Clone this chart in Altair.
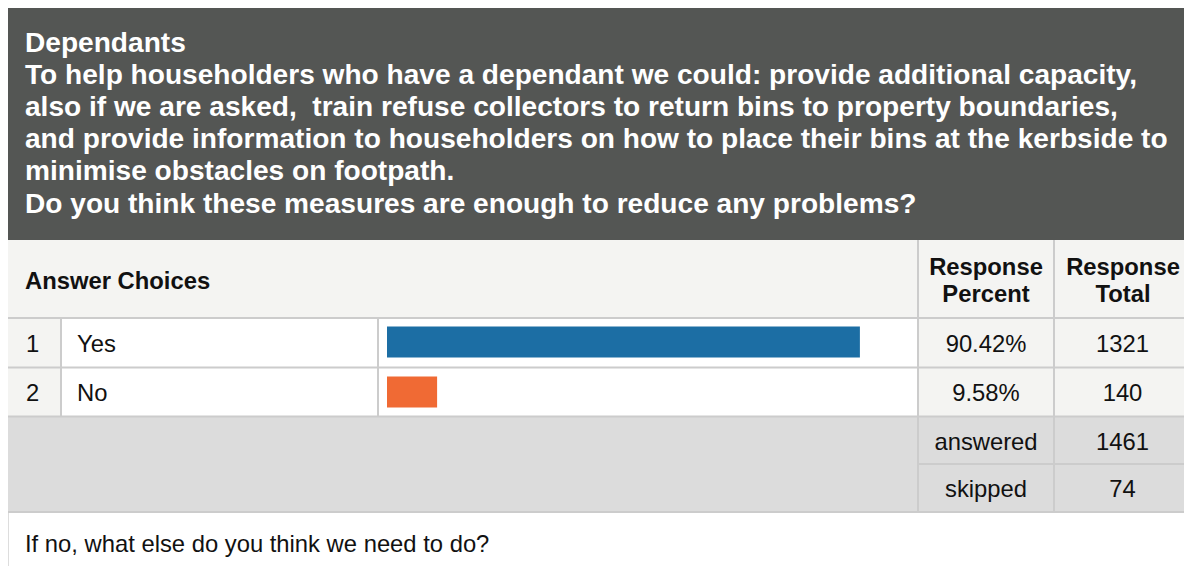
import altair as alt
import pandas as pd

# ---------------- data ----------------
title_lines = [
    "Dependants",
    "To help householders who have a dependant we could: provide additional capacity,",
    "also if we are asked,\u00a0 train refuse collectors to return bins to property boundaries,",
    "and provide information to householders on how to place their bins at the kerbside to",
    "minimise obstacles on footpath.",
    "Do you think these measures are enough to reduce any problems?",
]
choices = ["Yes", "No"]
numbers = ["1", "2"]
percents = [90.42, 9.58]
totals = [1321, 140]
summary_labels = ["answered", "skipped"]
summary_values = [1461, 74]
header_choice = "Answer Choices"
header_cols = [["Response", "Percent"], ["Response", "Total"]]
footer_text = "If no, what else do you think we need to do?"

# ---------------- styles / layout (reference pixel grid) ----------------
OFF = 8  # page margin
bar_colors = ["#1c6ea4", "#f06a34"]
DARK = "#545654"
LIGHT = "#f4f4f2"
SUMM = "#dcdcdc"
LINE = "#cccccc"
FONT = "Liberation Sans"
FS = 23.8
FS_TITLE = 28.1
TXT = "#111111"

boxes = [
    (0, 1192, 0, 5, "#d9d9d9"),
    (5, 1192, 5, 240, DARK),
    (4, 1190, 240, 318, LIGHT),
    (4, 61, 318, 416, LIGHT),
    (61, 918, 318, 416, "#ffffff"),
    (918, 1190, 318, 416, LIGHT),
    (4, 1190, 416, 512, SUMM),
    # grid lines
    (4, 1190, 317, 319, LINE),
    (4, 1190, 366.5, 368.5, LINE),
    (4, 1190, 415.5, 417.5, LINE),
    (918, 1190, 463, 465, LINE),
    (4, 1190, 511, 513, LINE),
    (60, 62, 318, 416, LINE),
    (377, 379, 318, 416, LINE),
    (917, 919, 240, 512, LINE),
    (1053, 1055, 240, 512, LINE),
    (0, 3, 5, 574, LINE),
]
box_df = pd.DataFrame(
    [dict(x0=a - OFF, x1=b - OFF, y0=c - OFF, y1=d - OFF, fill=f) for a, b, c, d, f in boxes]
)

layout = alt.Chart(box_df).mark_rect().encode(
    x=alt.X("x0:Q", scale=None),
    x2="x1:Q",
    y=alt.Y("y0:Q", scale=None),
    y2="y1:Q",
    fill=alt.Fill("fill:N", scale=None),
)

# title lines
title_df = pd.DataFrame({"line": list(range(len(title_lines))), "text": title_lines})
title = alt.Chart(title_df).mark_text(
    align="left", baseline="alphabetic", font=FONT, fontSize=FS_TITLE,
    fontWeight="bold", color="#ffffff",
).encode(
    x=alt.value(25 - OFF),
    y=alt.Y("line:Q", scale=alt.Scale(domain=[0, 5], range=[52 - OFF, 212.5 - OFF]), axis=None),
    text="text:N",
)

# header row
hdr_df = pd.DataFrame({
    "text": [header_choice] + [t for pair in header_cols for t in pair],
    "xp": [25 - OFF, 986 - OFF, 986 - OFF, 1123 - OFF, 1123 - OFF],
    "yp": [289 - OFF, 274.5 - OFF, 301.5 - OFF, 274.5 - OFF, 301.5 - OFF],
})
hdr_left = alt.Chart(hdr_df.iloc[:1]).mark_text(
    align="left", baseline="alphabetic", font=FONT, fontSize=FS, fontWeight="bold", color=TXT
).encode(x=alt.X("xp:Q", scale=None), y=alt.Y("yp:Q", scale=None), text="text:N")
hdr_center = alt.Chart(hdr_df.iloc[1:]).mark_text(
    align="center", baseline="alphabetic", font=FONT, fontSize=FS, fontWeight="bold", color=TXT
).encode(x=alt.X("xp:Q", scale=None), y=alt.Y("yp:Q", scale=None), text="text:N")

# answer rows
rows_df = pd.DataFrame({
    "choice": choices,
    "num": numbers,
    "percent": percents,
    "pct_label": [f"{p:.2f}%" for p in percents],
    "total": [str(t) for t in totals],
})
yband = alt.Scale(domain=choices, range=[318 - OFF, 416 - OFF], paddingInner=0.38, paddingOuter=0.17)

bars = alt.Chart(rows_df).mark_bar().encode(
    x=alt.X("percent:Q", scale=alt.Scale(domain=[0, 100], range=[387 - OFF, 910 - OFF]), axis=None),
    y=alt.Y("choice:N", scale=yband, axis=None),
    color=alt.Color("choice:N", scale=alt.Scale(domain=choices, range=bar_colors), legend=None),
)

def row_text(field, xpos, align):
    return alt.Chart(rows_df).mark_text(
        align=align, baseline="alphabetic", dy=9, font=FONT, fontSize=FS, color=TXT
    ).encode(
        x=alt.value(xpos - OFF),
        y=alt.Y("choice:N", scale=yband, axis=None),
        text=f"{field}:N",
    )

t_num = row_text("num", 32.5, "center")
t_lab = row_text("choice", 77, "left")
t_pct = row_text("pct_label", 986, "center")
t_tot = row_text("total", 1122.5, "center")

# summary rows
summ_df = pd.DataFrame({
    "label": summary_labels,
    "value": [str(v) for v in summary_values],
    "yp": [450 - OFF, 497 - OFF],
})
s_lab = alt.Chart(summ_df).mark_text(
    align="center", baseline="alphabetic", font=FONT, fontSize=FS, color=TXT
).encode(x=alt.value(986 - OFF), y=alt.Y("yp:Q", scale=None), text="label:N")
s_val = alt.Chart(summ_df).mark_text(
    align="center", baseline="alphabetic", font=FONT, fontSize=FS, color=TXT
).encode(x=alt.value(1122.5 - OFF), y=alt.Y("yp:Q", scale=None), text="value:N")

# footer
foot_df = pd.DataFrame({"text": [footer_text]})
foot = alt.Chart(foot_df).mark_text(
    align="left", baseline="alphabetic", font=FONT, fontSize=FS, color=TXT
).encode(x=alt.value(25 - OFF), y=alt.value(552 - OFF), text="text:N")

chart = alt.layer(
    layout, title, hdr_left, hdr_center, bars, t_num, t_lab, t_pct, t_tot, s_lab, s_val, foot
).resolve_scale(
    x="independent", y="independent", color="independent"
).properties(
    width=1192 - 2 * OFF, height=574 - 2 * OFF, padding=0, autosize=alt.AutoSizeParams(type="none")
).configure_view(stroke=None).configure(background="#ffffff")

chart.save("out.html", embed_options={"renderer": "svg", "actions": False})
